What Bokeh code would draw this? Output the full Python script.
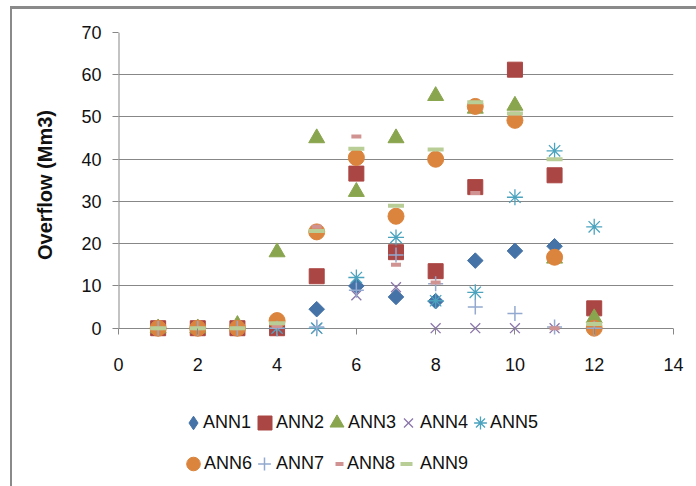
import math
from bokeh.plotting import figure
from bokeh.layouts import column, row
from bokeh.models import Range1d, FixedTicker, Legend, LegendItem, Div, Spacer
from bokeh.embed import file_html
from bokeh.resources import INLINE

# Month index and overflow (Mm3) simulated by each ANN model
months = [1, 2, 3, 4, 5, 6, 7, 8, 9, 10, 11, 12]
ann1 = [0, 0, 0, 0, 4.5, 10, 7.4, 6.4, 16, 18.3, 19.4, 0]
ann2 = [0, 0, 0, 0, 12.3, 36.6, 18, 13.5, 33.4, 61.2, 36.2, 4.7]
ann3 = [0, 0, 0.8, 18, 45, 32.3, 45, 55, 52, 52.7, 16.5, 2.4]
ann4 = [0, 0, 0, 0, 0, 7.8, 9.7, 0, 0, 0, 0, 0]
ann5 = [0, 0, 0, 0, 0, 12, 21.5, 6.5, 8.5, 31, 42, 24]
ann6 = [0, 0, 0, 1.8, 22.8, 40.4, 26.5, 40, 52.5, 49.2, 16.8, 0]
ann7 = [0, 0, 0, 0, 0.3, 9, 17.3, 10.5, 5, 3.5, 0.3, 0]
ann8 = [0, 0, 0, 0.5, 24, 45.4, 15, 10.8, 32, 50.8, 0, 1]
ann9 = [0, 0, 0, 1.2, 23, 42.5, 29, 42.3, 53.5, 50.8, 40, 1]

series_names = ["ANN1", "ANN2", "ANN3", "ANN4", "ANN5", "ANN6", "ANN7", "ANN8", "ANN9"]
x_ticks = [0, 2, 4, 6, 8, 10, 12, 14]
y_ticks = [0, 10, 20, 30, 40, 50, 60, 70]

GRID = "#878787"
FRAME = "#8a8a8a"
FONT = "Liberation Sans"
TXT = "#111111"

# marker styles shared by the chart and its legend
styles = [
    dict(marker="square", size=11, angle=math.pi / 4, fill_color="#4572A7", line_color="#4572A7"),
    dict(marker="square", size=15, fill_color="#AA4643", line_color="#AA4643"),
    dict(marker="triangle", size=16, fill_color="#89A54E", line_color="#89A54E"),
    dict(marker="x", size=14, line_color="#8B76AA", line_width=1.3),
    dict(marker="asterisk", size=16, line_color="#4BA3BE", line_width=1.3),
    dict(marker="circle", size=16, fill_color="#DB843D", line_color="#DB843D"),
    dict(marker="cross", size=15, line_color="#93A9CF", line_width=1.5),
    dict(marker="dash", size=10, line_color="#D19392", line_width=4),
    dict(marker="dash", size=16, line_color="#B9CD96", line_width=4),
]
values = [ann1, ann2, ann3, ann4, ann5, ann6, ann7, ann8, ann9]

W = 684
H_MAIN = 380
H_LEG = 97
BORDER_L, BORDER_R = 106, 23

p = figure(
    width=W, height=H_MAIN,
    x_range=Range1d(0, 14), y_range=Range1d(-2.2, 70),
    output_backend="svg", toolbar_location=None,
    min_border_left=BORDER_L, min_border_right=BORDER_R,
    min_border_top=23, min_border_bottom=52,
)
p.outline_line_color = None
p.background_fill_color = "white"
p.border_fill_color = "white"

# x axis sits at the frame bottom; its ticks are pulled up to the zero line
xa = p.xaxis[0]
xa.ticker = FixedTicker(ticks=x_ticks)
xa.axis_line_color = None
xa.major_tick_line_color = GRID
xa.major_tick_in = 9
xa.major_tick_out = -3
xa.minor_tick_line_color = None
xa.major_label_standoff = 20
xa.major_label_text_font = FONT
xa.major_label_text_font_size = "18px"
xa.major_label_text_color = TXT

ya = p.yaxis[0]
ya.ticker = FixedTicker(ticks=y_ticks)
ya.axis_line_color = None
ya.major_tick_line_color = GRID
ya.major_tick_out = 6
ya.major_tick_in = 0
ya.minor_tick_line_color = None
ya.major_label_standoff = 11
ya.major_label_text_font = FONT
ya.major_label_text_font_size = "18px"
ya.major_label_text_color = TXT
ya.axis_label = "Overflow (Mm3)"
ya.axis_label_text_font = FONT
ya.axis_label_text_font_style = "bold"
ya.axis_label_text_font_size = "20px"
ya.axis_label_text_color = TXT
ya.axis_label_standoff = 22

p.xgrid.grid_line_color = None
p.ygrid.ticker = FixedTicker(ticks=y_ticks)
p.ygrid.grid_line_color = GRID
p.ygrid.grid_line_width = 1

# vertical axis line from 0 to 70 only
p.segment(x0=[0], y0=[0], x1=[0], y1=[70], line_color=GRID, line_width=2)

for vals, st in zip(values, styles):
    p.scatter(months, vals, **st)

# legend strip below the chart (its frame lines up with the chart frame)
leg = figure(
    width=W, height=H_LEG,
    x_range=Range1d(0, W), y_range=Range1d(0, H_LEG),
    x_axis_location=None, y_axis_location=None,
    output_backend="svg", toolbar_location=None,
    min_border_left=BORDER_L, min_border_right=BORDER_R,
    min_border_top=0, min_border_bottom=0,
)
leg.grid.visible = False
leg.outline_line_color = None
leg.background_fill_color = "white"
leg.border_fill_color = "white"

# entry layout: marker centre x, row centre y (page px), swatch box size, text start x
entry_pos = [
    (193, 422, 34, 203), (264, 422, 35, 276), (336, 422, 35, 348),
    (408, 422, 32, 420), (480, 422, 32, 490),
    (193, 463, 34, 204), (264, 463, 32, 276), (339, 463, 20, 347),
    (406, 463, 30, 420),
]
X0, Y0 = 12 + BORDER_L, 9 + H_MAIN
GH = 35
LEG_COMMON = dict(
    padding=0, margin=0, spacing=0, label_standoff=0,
    glyph_height=GH, label_height=GH,
    border_line_color=None, background_fill_alpha=0,
    label_text_font=FONT, label_text_font_size="18px", label_text_color=TXT,
)
# invisible renderer backing the text-only legend entries
blank = leg.scatter([-100], [-100], size=0, fill_alpha=0, line_alpha=0)

for i, (name, st, (cx, cy, gw, tx)) in enumerate(zip(series_names, styles, entry_pos)):
    st = dict(st)
    if i == 0:
        # legend swatch ignores marker rotation, so use the diamond shape directly
        st.pop("angle")
        st["marker"] = "diamond"
    # a single off-range point so the legend has a glyph to draw from
    r = leg.scatter([-100], [-100], **st)
    cx -= X0
    tx -= X0
    bottom = H_LEG - (cy - Y0) - GH / 2
    swatch = Legend(
        items=[LegendItem(label=" ", renderers=[r])],
        location=(cx - gw / 2, bottom), glyph_width=gw, **LEG_COMMON,
    )
    text = Legend(
        items=[LegendItem(label=name, renderers=[blank])],
        location=(tx, bottom), glyph_width=0, **LEG_COMMON,
    )
    leg.add_layout(swatch, "center")
    leg.add_layout(text, "center")

# chart border: a rule along the top and the left edge
RULE_CSS = {"background-color": FRAME, "flex-shrink": "0"}
top_rule = Div(text="", width=686, height=3, margin=0,
               styles=dict(RULE_CSS, height="3px", width="686px", **{"min-height": "3px"}))
left_rule = Div(text="", width=2, height=H_MAIN + H_LEG, margin=0,
                styles=dict(RULE_CSS))

page = row(
    Spacer(width=10, height=486, margin=0),
    column(
        Spacer(width=686, height=6, margin=0),
        top_rule,
        row(left_rule, column(p, leg, margin=0), margin=0),
        margin=0,
    ),
    margin=0,
)

open("out.html", "w").write(file_html(page, INLINE))
